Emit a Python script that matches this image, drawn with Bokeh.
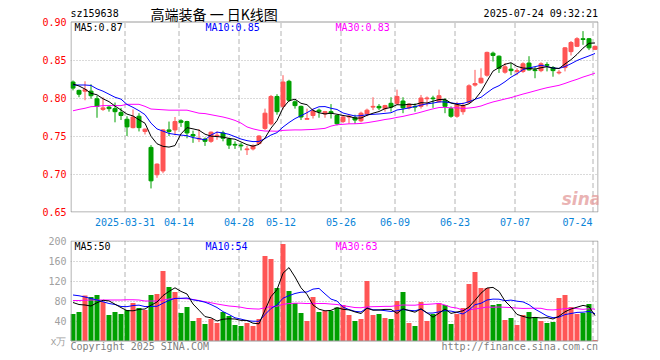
from bokeh.plotting import figure
from bokeh.layouts import column
from bokeh.models import (ColumnDataSource, FixedTicker, Label, Range1d,
                          CustomJSTickFormatter, NumeralTickFormatter)
from bokeh.embed import file_html
from bokeh.resources import INLINE

# ---------------- data ----------------
opens = [0.821, 0.810, 0.809, 0.809, 0.799, 0.785, 0.788, 0.786, 0.781, 0.772,
         0.761, 0.776, 0.756, 0.735, 0.699, 0.704, 0.758, 0.758, 0.770, 0.769,
         0.752, 0.746, 0.746, 0.743, 0.750, 0.754, 0.746, 0.739, 0.738, 0.732,
         0.733, 0.740, 0.760, 0.766, 0.802, 0.789, 0.822, 0.795, 0.789, 0.772,
         0.777, 0.784, 0.779, 0.782, 0.777, 0.769, 0.775, 0.774, 0.770, 0.779,
         0.788, 0.789, 0.786, 0.793, 0.793, 0.796, 0.787, 0.789, 0.789, 0.799,
         0.800, 0.795, 0.797, 0.786, 0.776, 0.782, 0.794, 0.817, 0.820, 0.830,
         0.859, 0.855, 0.834, 0.838, 0.835, 0.835, 0.846, 0.837, 0.836, 0.844,
         0.840, 0.833, 0.840, 0.861, 0.868, 0.878, 0.878, 0.864]
highs = [0.823, 0.811, 0.822, 0.818, 0.803, 0.801, 0.790, 0.794, 0.787, 0.776,
         0.785, 0.780, 0.760, 0.738, 0.714, 0.759, 0.769, 0.775, 0.772, 0.770,
         0.757, 0.759, 0.748, 0.756, 0.756, 0.757, 0.748, 0.743, 0.741, 0.737,
         0.739, 0.751, 0.786, 0.804, 0.805, 0.830, 0.824, 0.797, 0.790, 0.786,
         0.786, 0.786, 0.783, 0.792, 0.778, 0.777, 0.778, 0.778, 0.782, 0.786,
         0.801, 0.792, 0.791, 0.801, 0.811, 0.801, 0.793, 0.793, 0.804, 0.802,
         0.803, 0.811, 0.800, 0.789, 0.795, 0.794, 0.818, 0.837, 0.839, 0.861,
         0.861, 0.856, 0.846, 0.846, 0.839, 0.847, 0.855, 0.841, 0.847, 0.847,
         0.842, 0.837, 0.867, 0.875, 0.880, 0.888, 0.879, 0.869]
lows = [0.810, 0.801, 0.797, 0.799, 0.774, 0.783, 0.782, 0.768, 0.771, 0.750,
        0.760, 0.756, 0.752, 0.681, 0.695, 0.701, 0.750, 0.751, 0.762, 0.747,
        0.741, 0.742, 0.737, 0.741, 0.745, 0.743, 0.733, 0.733, 0.731, 0.725,
        0.731, 0.739, 0.758, 0.764, 0.778, 0.785, 0.795, 0.786, 0.771, 0.772,
        0.773, 0.774, 0.774, 0.773, 0.764, 0.767, 0.766, 0.766, 0.768, 0.776,
        0.784, 0.784, 0.782, 0.782, 0.791, 0.780, 0.785, 0.782, 0.786, 0.789,
        0.787, 0.794, 0.780, 0.774, 0.774, 0.778, 0.793, 0.815, 0.819, 0.828,
        0.848, 0.833, 0.832, 0.830, 0.830, 0.833, 0.836, 0.826, 0.834, 0.835,
        0.828, 0.831, 0.835, 0.856, 0.867, 0.870, 0.863, 0.863]
closes = [0.813, 0.805, 0.811, 0.803, 0.789, 0.787, 0.786, 0.782, 0.777, 0.762,
          0.775, 0.761, 0.759, 0.691, 0.713, 0.758, 0.756, 0.769, 0.768, 0.754,
          0.750, 0.747, 0.743, 0.755, 0.751, 0.747, 0.738, 0.738, 0.737, 0.733,
          0.737, 0.750, 0.780, 0.802, 0.782, 0.821, 0.797, 0.790, 0.775, 0.773,
          0.783, 0.782, 0.782, 0.780, 0.766, 0.775, 0.776, 0.771, 0.780, 0.784,
          0.789, 0.787, 0.790, 0.788, 0.802, 0.787, 0.792, 0.788, 0.800, 0.800,
          0.799, 0.803, 0.789, 0.776, 0.791, 0.790, 0.816, 0.819, 0.826, 0.860,
          0.856, 0.839, 0.841, 0.836, 0.836, 0.845, 0.837, 0.836, 0.845, 0.843,
          0.836, 0.834, 0.866, 0.873, 0.878, 0.877, 0.866, 0.868]
volumes = [54, 58, 91, 88, 92, 78, 52, 58, 54, 62,
           76, 66, 62, 92, 94, 140, 108, 98, 56, 68,
           40, 46, 34, 44, 36, 58, 50, 32, 30, 36,
           30, 44, 170, 164, 106, 194, 100, 76, 56, 40,
           88, 58, 60, 60, 67, 72, 52, 40, 44, 120,
           52, 54, 46, 44, 80, 98, 36, 30, 78, 40,
           54, 76, 72, 34, 54, 66, 114, 138, 106, 106,
           72, 74, 42, 46, 32, 52, 58, 48, 40, 36,
           38, 86, 92, 68, 54, 56, 74, 2]

# moving-average values at the left edge (their windows start before the chart)
ma5_head = [0.8184, 0.8158, 0.8118, 0.8062]
ma10_head = [0.8171, 0.8171, 0.8171, 0.8165, 0.812, 0.809, 0.805, 0.801, 0.7985]
ma30_head = [0.7832, 0.785, 0.7865, 0.7886, 0.789, 0.790, 0.790, 0.790, 0.790, 0.7917,
             0.7917, 0.7917, 0.789, 0.7855, 0.785, 0.7845, 0.784, 0.784, 0.784, 0.784,
             0.782, 0.780, 0.7795, 0.778, 0.7765, 0.775, 0.773, 0.7705, 0.767]
vma5_head = [77, 73, 72, 70]
vma10_head = [92, 90.5, 88, 85, 82, 78.5, 75, 73, 69]
vma30_head = [81, 81, 81.5, 82, 82, 82, 82, 82, 82, 82.5,
              82.5, 82, 80, 80, 80, 82, 84, 85, 85, 84.5,
              83, 81, 78.5, 76.5, 74, 72, 70, 69, 67.5]

date_tick_index = [9, 18, 28, 35, 45, 54, 64, 74, 87]
date_tick_labels = ["2025-03-31", "04-14", "04-28", "05-12", "05-26",
                    "06-09", "06-23", "07-07", "07-24"]
price_ticks = [0.65, 0.70, 0.75, 0.80, 0.85, 0.90]
vol_ticks = [0, 40, 80, 120, 160, 200]
vol_tick_labels = ["x万", "40", "80", "120", "160", "200"]

# ---------------- helpers ----------------
def moving_average(vals, n, head):
    out = list(head)
    for i in range(len(head), len(vals)):
        out.append(sum(vals[i - n + 1:i + 1]) / n)
    return out

N = len(closes)
idx = list(range(N))
ma5 = moving_average(closes, 5, ma5_head)
ma10 = moving_average(closes, 10, ma10_head)
ma30 = moving_average(closes, 30, ma30_head)
vma5 = moving_average(volumes, 5, vma5_head)
vma10 = moving_average(volumes, 10, vma10_head)
vma30 = moving_average(volumes, 30, vma30_head)

RED = "#ff5555"
GREEN = "#00a000"
GRID = "#b4b4b4"
FRAME = "#9a9a9a"
MONO = "DejaVu Sans Mono"

STEP = 6.0           # px per trading day
LEFT = 70            # left border of the figures (px)
FRAME_W = 528
W = 652
x0 = -2.5 / STEP
x_range = Range1d(x0, x0 + FRAME_W / STEP)
box_left = x0 + 0.5 / STEP
box_right = x_range.end - 0.5 / STEP

H1 = 232
k1 = 0.25 / 190.0    # price per px
P0_ROW = 211.5       # pixel row of the lowest price tick
y1 = Range1d(price_ticks[0] - (212 - P0_ROW) * k1, price_ticks[0] + P0_ROW * k1)

H2 = 120
TOP2 = 232           # where the volume figure starts
k2 = 2.0             # volume per px
V0_ROW = 340.5
y2 = Range1d(-(TOP2 + H2 - V0_ROW) * k2, (V0_ROW - (TOP2 + 8)) * k2)

def sx(px):          # picture x -> index units
    return (px - 72.5) / STEP

def sy1(py):         # picture y -> price units
    return price_ticks[0] + (P0_ROW - py) * k1

def sy2(py):         # picture y -> volume units
    return (V0_ROW - py) * k2

grid_pos = [d - 1.0 / 3.0 for d in date_tick_index]
label_pos = list(grid_pos)
label_pos[-1] = min(label_pos[-1], x_range.end - (6 + 2.5 * STEP) / STEP)

up = [c >= o for o, c in zip(opens, closes)]
colors = [RED if u else GREEN for u in up]
src = ColumnDataSource(dict(
    x=idx, open=opens, close=closes, high=highs, low=lows, vol=volumes,
    top=[max(o, c) for o, c in zip(opens, closes)],
    bottom=[min(o, c) for o, c in zip(opens, closes)],
    color=colors))


def style_fig(fig):
    fig.background_fill_color = "white"
    fig.border_fill_color = "white"
    fig.outline_line_color = None


def add_label(fig, text, x, y, color="#000000", size="10px", font=MONO, align="left",
              style="normal", alpha=1.0):
    fig.add_layout(Label(x=x, y=y, text=text, text_color=color, text_font_size=size,
                         text_font=font, text_align=align, text_baseline="middle",
                         text_font_style=style, text_alpha=alpha))


def style_axis(ax, color):
    ax.axis_line_color = None
    ax.major_tick_line_color = None
    ax.minor_tick_line_color = None
    ax.major_tick_out = 0
    ax.major_tick_in = 0
    ax.major_label_text_font = MONO
    ax.major_label_text_font_size = "10px"
    ax.major_label_text_color = color


# ---------------- price figure ----------------
p = figure(width=W, height=H1, x_range=x_range, y_range=y1,
           output_backend="svg", toolbar_location=None,
           min_border_left=LEFT, min_border_right=W - LEFT - FRAME_W,
           min_border_top=0, min_border_bottom=H1 - 212)
style_fig(p)
p.xgrid.visible = False
p.ygrid.ticker = FixedTicker(ticks=price_ticks[1:-1])
p.ygrid.grid_line_color = GRID
p.ygrid.grid_line_dash = "1 2"

p.segment(x0=grid_pos, y0=[price_ticks[0]] * len(grid_pos), x1=grid_pos,
          y1=[price_ticks[-1]] * len(grid_pos), line_color=GRID, line_dash="5 3", line_width=1)
p.quad(left=[box_left], right=[box_right], bottom=[price_ticks[0]], top=[price_ticks[-1]],
       fill_color=None, line_color=FRAME, line_width=1)

p.segment(x0="x", y0="low", x1="x", y1="high", line_color="color", line_width=1, source=src)
p.vbar(x="x", width=4.0 / STEP, top="top", bottom="bottom", fill_color="color",
       line_color="color", line_width=1, source=src)
p.line(idx, ma30, line_color="#ff00ff", line_width=1)
p.line(idx, ma10, line_color="#0000ff", line_width=1)
p.line(idx, ma5, line_color="#000000", line_width=1)

p.yaxis.ticker = FixedTicker(ticks=price_ticks)
p.yaxis.formatter = NumeralTickFormatter(format="0.00")
p.xaxis.ticker = FixedTicker(ticks=label_pos)
p.xaxis.formatter = CustomJSTickFormatter(args=dict(pos=label_pos, labels=date_tick_labels), code="""
let best = 0, bd = 1e9;
for (let i = 0; i < pos.length; i++) { const d = Math.abs(pos[i] - tick); if (d < bd) { bd = d; best = i; } }
return labels[best];
""")
style_axis(p.yaxis[0], "#ff0000")
style_axis(p.xaxis[0], "#0a84d8")
p.yaxis.major_label_standoff = 4
p.xaxis.major_label_standoff = 5

add_label(p, "sz159638", sx(70), sy1(13))
add_label(p, "高端装备 一 日K线图", sx(150), sy1(13), size="14px", font="Noto Sans CJK SC")
add_label(p, "2025-07-24 09:32:21", sx(597.5), sy1(13), align="right")
add_label(p, "MA5:0.87", sx(74), sy1(27))
add_label(p, "MA10:0.85", sx(205), sy1(27), color="#0000ff")
add_label(p, "MA30:0.83", sx(335), sy1(27), color="#ff00ff")
add_label(p, "sina", sx(581), sy1(198), color="#e39a9a", size="17px", font="DejaVu Sans",
          align="center", style="bold italic", alpha=0.75)

# ---------------- volume figure ----------------
v = figure(width=W, height=H2, x_range=x_range, y_range=y2,
           output_backend="svg", toolbar_location=None,
           min_border_left=LEFT, min_border_right=W - LEFT - FRAME_W,
           min_border_top=8, min_border_bottom=0)
style_fig(v)
v.xgrid.visible = False
v.ygrid.ticker = FixedTicker(ticks=vol_ticks[1:-1])
v.ygrid.grid_line_color = GRID
v.ygrid.grid_line_dash = "1 2"
v.ygrid.bounds = (vol_ticks[0], vol_ticks[-1])

v.segment(x0=grid_pos, y0=[vol_ticks[0]] * len(grid_pos), x1=grid_pos,
          y1=[vol_ticks[-1]] * len(grid_pos), line_color=GRID, line_dash="5 3", line_width=1)

v.vbar(x="x", width=5.0 / STEP, top="vol", bottom=0, fill_color="color", line_color=None, source=src)
v.line(idx, vma30, line_color="#ff00ff", line_width=1)
v.line(idx, vma10, line_color="#0000ff", line_width=1)
v.line(idx, vma5, line_color="#000000", line_width=1)
v.quad(left=[box_left], right=[box_right], bottom=[vol_ticks[0]], top=[vol_ticks[-1]],
       fill_color=None, line_color=FRAME, line_width=1)

v.xaxis.visible = False
v.yaxis.ticker = FixedTicker(ticks=vol_ticks)
v.yaxis.major_label_overrides = {t: s for t, s in zip(vol_ticks, vol_tick_labels)}
style_axis(v.yaxis[0], "#a0a0a0")
v.yaxis.major_label_standoff = 4

add_label(v, "MA5:50", sx(74), sy2(246))
add_label(v, "MA10:54", sx(205), sy2(246), color="#0000ff")
add_label(v, "MA30:63", sx(335), sy2(246), color="#ff00ff")
add_label(v, "Copyright 2025 SINA.COM", sx(70), sy2(346), color="#808080")
add_label(v, "http://finance.sina.com.cn", sx(597.5), sy2(346), color="#808080", align="right")

layout = column(p, v, spacing=0)
open("out.html", "w").write(file_html(layout, INLINE))
